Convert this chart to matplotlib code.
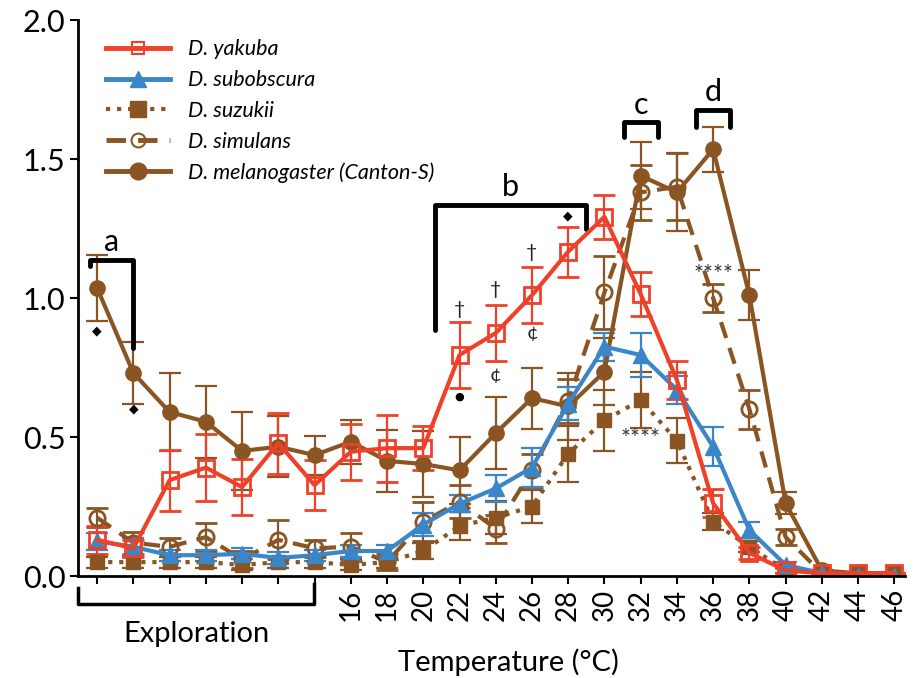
import numpy as np
import matplotlib.pyplot as plt
from matplotlib.lines import Line2D

plt.rcParams['font.family'] = ['Lato', 'DejaVu Sans']

# x positions: 7 exploration points then 16..46 C
x = [2, 4, 6, 8, 10, 12, 14, 16, 18, 20, 22, 24, 26, 28, 30, 32, 34, 36, 38, 40, 42, 44, 46]
tick_labels = [''] * 7 + [str(t) for t in range(16, 48, 2)]

yakuba = [0.13, 0.10, 0.345, 0.39, 0.32, 0.478, 0.327, 0.447, 0.46, 0.46, 0.795, 0.874, 1.01, 1.167,
          1.292, 1.014, 0.705, 0.262, 0.083, 0.02, 0.01, 0.01, 0.01]
yakuba_err = [0.05, 0.03, 0.11, 0.12, 0.1, 0.11, 0.09, 0.1, 0.12, 0.08, 0.12, 0.1, 0.1, 0.09,
              0.08, 0.08, 0.07, 0.05, 0.02, 0.01, 0.0, 0.0, 0.0]
subobscura = [0.125, 0.105, 0.075, 0.075, 0.08, 0.065, 0.075, 0.09, 0.09, 0.185, 0.26, 0.315, 0.39, 0.62,
              0.825, 0.795, 0.67, 0.465, 0.165, 0.04, 0.01, 0.0, 0.0]
subobscura_err = [0.03, 0.03, 0.02, 0.02, 0.02, 0.02, 0.02, 0.02, 0.02, 0.04, 0.03, 0.05, 0.07, 0.06,
                  0.05, 0.08, 0.05, 0.07, 0.03, 0.01, 0.0, 0.0, 0.0]
suzukii = [0.05, 0.05, 0.05, 0.05, 0.04, 0.05, 0.05, 0.04, 0.05, 0.09, 0.18, 0.21, 0.25, 0.44,
           0.56, 0.633, 0.487, 0.195, 0.105, 0.02, 0.01, 0.01, 0.01]
suzukii_err = [0.02, 0.02, 0.02, 0.02, 0.02, 0.02, 0.02, 0.02, 0.02, 0.03, 0.05, 0.06, 0.06, 0.1,
               0.11, 0.1, 0.08, 0.03, 0.02, 0.01, 0.0, 0.0, 0.0]
simulans = [0.21, 0.12, 0.105, 0.14, 0.06, 0.13, 0.10, 0.105, 0.05, 0.195, 0.267, 0.17, 0.38, 0.63,
            1.02, 1.38, 1.40, 1.0, 0.6, 0.14, 0.01, 0.01, 0.01]
simulans_err = [0.035, 0.04, 0.03, 0.05, 0.03, 0.07, 0.03, 0.05, 0.03, 0.07, 0.06, 0.05, 0.06, 0.08,
                0.13, 0.1, 0.12, 0.05, 0.07, 0.03, 0.0, 0.0, 0.0]
melanogaster = [1.036, 0.73, 0.59, 0.555, 0.45, 0.465, 0.435, 0.483, 0.414, 0.403, 0.38, 0.514, 0.64, 0.61,
                0.735, 1.44, 1.38, 1.535, 1.01, 0.262, 0.02, 0.01, 0.01]
melanogaster_err = [0.12, 0.11, 0.14, 0.13, 0.14, 0.11, 0.07, 0.08, 0.11, 0.12, 0.12, 0.13, 0.11, 0.12,
                    0.12, 0.12, 0.14, 0.08, 0.09, 0.04, 0.0, 0.0, 0.0]

red = '#ef4129'
blue = '#3a86c8'
brown = '#8a5522'

fig = plt.figure(figsize=(9.19, 6.78), dpi=100)
ax = fig.add_axes([0.085, 0.1504, 0.90, 0.8201])

ek = dict(elinewidth=1.6, capsize=8, capthick=1.6)
ax.errorbar(x, suzukii, yerr=suzukii_err, color=brown, ls=':', lw=3, marker='s', ms=10, **ek)
ax.errorbar(x, simulans, yerr=simulans_err, color=brown, ls=(0, (4, 2.5)), lw=3, marker='o', ms=11,
            mfc='none', mew=2, **ek)
ax.errorbar(x, melanogaster, yerr=melanogaster_err, color=brown, ls='-', lw=3, marker='o', ms=11, **ek)
ax.errorbar(x, subobscura, yerr=subobscura_err, color=blue, ls='-', lw=3, marker='^', ms=12, **ek)
ax.errorbar(x, yakuba, yerr=yakuba_err, color=red, ls='-', lw=3, marker='s', ms=12,
            mfc='none', mew=2, **ek)

ax.set_xlim(0.95, 46.6)
ax.set_ylim(0, 2.0)
ax.set_xticks(x)
ax.set_xticklabels(tick_labels, rotation=90, fontsize=20)
ax.set_yticks([0, 0.5, 1.0, 1.5, 2.0])
ax.set_yticklabels(['0.0', '0.5', '1.0', '1.5', '2.0'], fontsize=22)
ax.tick_params(direction='out', length=6, width=1.5, pad=3)
for s in ['top', 'right']:
    ax.spines[s].set_visible(False)
for s in ['left', 'bottom']:
    ax.spines[s].set_linewidth(2)
ax.set_xlabel('Temperature (°C)', fontsize=21, labelpad=20, x=0.52)

handles = [
    Line2D([], [], color=red, lw=3.5, marker='s', ms=8, mfc='none', mew=1.5),
    Line2D([], [], color=blue, lw=3.5, marker='^', ms=12),
    Line2D([], [], color=brown, lw=3, ls=':', marker='s', ms=12),
    Line2D([], [], color=brown, lw=3.5, ls=(0, (4, 2.5)), marker='o', ms=10, mfc='none', mew=1.5),
    Line2D([], [], color=brown, lw=3.5, marker='o', ms=12),
]
labels = ['D. yakuba', 'D. subobscura', 'D. suzukii', 'D. simulans', 'D. melanogaster (Canton-S)']
leg = ax.legend(handles, labels, loc='upper left', bbox_to_anchor=(0.01, 1.0), frameon=False,
                fontsize=15.5, handlelength=3.0, handletextpad=0.8, labelspacing=0.5)
for t in leg.get_texts():
    t.set_style('italic')

# brackets
bk = dict(color='black', lw=3.5, solid_capstyle='round', clip_on=False)
ax.plot([1.6, 1.6, 4.0, 4.0], [1.115, 1.137, 1.137, 0.82], **bk)
ax.text(2.8, 1.15, 'a', fontsize=22, ha='center', va='bottom')
ax.plot([20.65, 20.65, 29.0, 29.0], [0.885, 1.335, 1.335, 1.25], **bk)
ax.text(24.8, 1.35, 'b', fontsize=22, ha='center', va='bottom')
ax.plot([31.1, 31.1, 32.95, 32.95], [1.58, 1.633, 1.633, 1.58], **bk)
ax.text(32.0, 1.645, 'c', fontsize=22, ha='center', va='bottom')
ax.plot([35.05, 35.05, 36.95, 36.95], [1.615, 1.676, 1.676, 1.615], **bk)
ax.text(36.0, 1.69, 'd', fontsize=22, ha='center', va='bottom')

# exploration bracket under the axis
ax.plot([0.95, 0.95, 13.95, 13.95], [-0.043, -0.1, -0.1, -0.03], color='black', lw=2.5, clip_on=False)
ax.text(7.5, -0.21, 'Exploration', fontsize=21, ha='center', va='center')

# significance marks
sk = dict(fontsize=14, ha='center', va='center', color='#222222')
ax.text(2, 0.88, '◆', fontsize=9, ha='center', va='center', family='DejaVu Sans')
ax.text(4, 0.60, '◆', fontsize=9, ha='center', va='center', family='DejaVu Sans')
ax.text(28, 1.295, '◆', fontsize=9, ha='center', va='center', family='DejaVu Sans')
for xx, yy in [(22, 0.957), (24, 1.03), (26, 1.165)]:
    ax.text(xx, yy, '†', **sk)
for xx, yy in [(24, 0.723), (26, 0.874)]:
    ax.text(xx, yy, '¢', **sk)
ax.text(22, 0.644, '●', fontsize=8, ha='center', va='center', family='DejaVu Sans')
ax.text(32, 0.495, '****', fontsize=17, ha='center', va='center', color='#333333')
ax.text(36, 1.085, '****', fontsize=17, ha='center', va='center', color='#333333')

fig.savefig('out.png', dpi=100)
